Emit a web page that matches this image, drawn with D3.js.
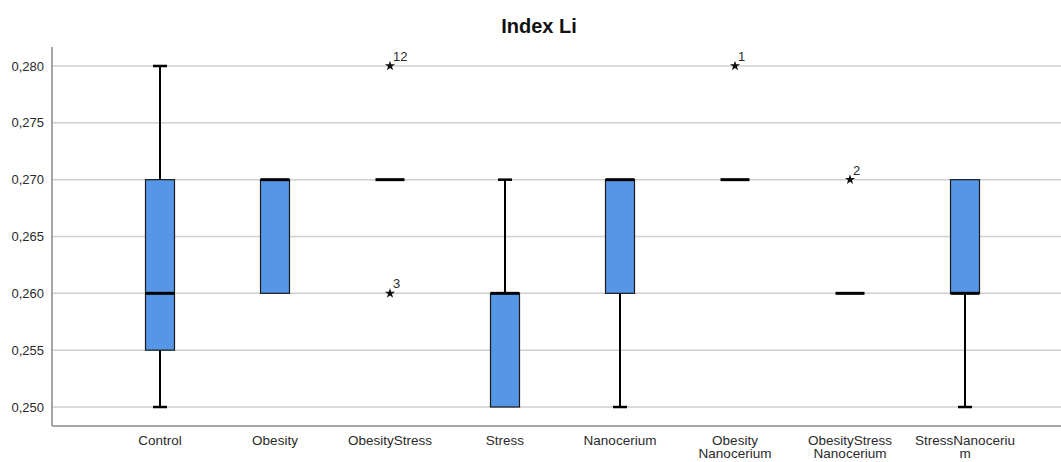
<!DOCTYPE html>
<html>
<head>
<meta charset="utf-8">
<script src="https://cdn.jsdelivr.net/npm/d3@7"></script>
<style>
  body { margin: 0; background: #fff; }
  svg { font-family: "Liberation Sans", Arial, sans-serif; }
</style>
</head>
<body>
<div id="chart"></div>
<script>
var categories = ["Control", "Obesity", "ObesityStress", "Stress", "Nanocerium",
    "Obesity Nanocerium", "ObesityStress Nanocerium", "StressNanocerium"];
var catLabels = [["Control"], ["Obesity"], ["ObesityStress"], ["Stress"], ["Nanocerium"],
    ["Obesity", "Nanocerium"], ["ObesityStress", "Nanocerium"], ["StressNanoceriu", "m"]];

var mins    = [0.250, 0.260, 0.270, 0.250, 0.250, 0.270, 0.260, 0.250];
var q1s     = [0.255, 0.260, 0.270, 0.250, 0.260, 0.270, 0.260, 0.260];
var medians = [0.260, 0.270, 0.270, 0.260, 0.270, 0.270, 0.260, 0.260];
var q3s     = [0.270, 0.270, 0.270, 0.260, 0.270, 0.270, 0.260, 0.270];
var maxs    = [0.280, 0.270, 0.270, 0.270, 0.270, 0.270, 0.260, 0.270];

var outlierCats   = ["ObesityStress", "ObesityStress", "Obesity Nanocerium", "ObesityStress Nanocerium"];
var outlierValues = [0.280, 0.260, 0.280, 0.270];
var outlierIds    = ["12", "3", "1", "2"];

var yTicks = [0.250, 0.255, 0.260, 0.265, 0.270, 0.275, 0.280];

var width = 1061,
    height = 462,
    axisX = 52,
    axisBottom = 426,
    axisTop = 47,
    boxWidth = 29,
    capWidth = 14,
    boxColor = "rgb(85, 150, 230)";

var svg = d3.select("#chart")
    .append("svg")
    .attr("width", width)
    .attr("height", height);

var x = d3.scaleBand()
    .domain(categories)
    .range([102.5, 1022.5]);

var y = d3.scaleLinear()
    .domain([0.24833, 0.28167])
    .range([axisBottom, axisTop]);

var cx = function (c) { return x(c) + x.bandwidth() / 2; };

// grid
svg.append("g")
    .selectAll("line")
    .data(yTicks)
    .join("line")
    .attr("x1", axisX)
    .attr("x2", width)
    .attr("y1", function (d) { return y(d); })
    .attr("y2", function (d) { return y(d); })
    .style("stroke", "#cfcfcf")
    .style("stroke-width", "1.5px");

// y tick labels
svg.append("g")
    .selectAll("text")
    .data(yTicks)
    .join("text")
    .attr("x", 44)
    .attr("y", function (d) { return y(d); })
    .attr("dy", "0.35em")
    .attr("text-anchor", "end")
    .style("font-size", "13px")
    .style("fill", "#2a2a2a")
    .text(function (d) { return d3.format(".3f")(d).replace(".", ","); });

// axes lines
svg.append("line")
    .attr("x1", axisX).attr("x2", axisX)
    .attr("y1", axisTop).attr("y2", axisBottom)
    .style("stroke", "#888").style("stroke-width", "1.5px");
svg.append("line")
    .attr("x1", axisX).attr("x2", width)
    .attr("y1", axisBottom).attr("y2", axisBottom)
    .style("stroke", "#888").style("stroke-width", "1.5px");

// x labels
var xl = svg.append("g")
    .selectAll("text")
    .data(categories)
    .join("text")
    .attr("text-anchor", "middle")
    .style("font-size", "13.5px")
    .style("fill", "#2a2a2a");
xl.each(function (c, i) {
    d3.select(this).selectAll("tspan")
        .data(catLabels[i])
        .join("tspan")
        .attr("x", cx(c))
        .attr("y", function (d, j) { return 445 + j * 13; })
        .text(function (d) { return d; });
});

// boxes
var boxes = svg.append("g")
    .selectAll("g")
    .data(categories)
    .join("g");

boxes.each(function (c, i) {
    var g = d3.select(this),
        m = cx(c);

    // whiskers
    if (maxs[i] > q3s[i]) {
        g.append("line").attr("x1", m).attr("x2", m)
            .attr("y1", y(q3s[i])).attr("y2", y(maxs[i]))
            .style("stroke", "#000").style("stroke-width", "2px");
        g.append("line").attr("x1", m - capWidth / 2).attr("x2", m + capWidth / 2)
            .attr("y1", y(maxs[i])).attr("y2", y(maxs[i]))
            .style("stroke", "#000").style("stroke-width", "2.5px");
    }
    if (mins[i] < q1s[i]) {
        g.append("line").attr("x1", m).attr("x2", m)
            .attr("y1", y(q1s[i])).attr("y2", y(mins[i]))
            .style("stroke", "#000").style("stroke-width", "2px");
        g.append("line").attr("x1", m - capWidth / 2).attr("x2", m + capWidth / 2)
            .attr("y1", y(mins[i])).attr("y2", y(mins[i]))
            .style("stroke", "#000").style("stroke-width", "2.5px");
    }

    // box
    if (q3s[i] > q1s[i]) {
        g.append("rect")
            .attr("x", m - boxWidth / 2)
            .attr("y", y(q3s[i]))
            .attr("width", boxWidth)
            .attr("height", y(q1s[i]) - y(q3s[i]))
            .style("fill", boxColor)
            .style("stroke", "#1a1a1a")
            .style("stroke-width", "1.2px");
    }

    // median
    g.append("line")
        .attr("x1", m - boxWidth / 2).attr("x2", m + boxWidth / 2)
        .attr("y1", y(medians[i])).attr("y2", y(medians[i]))
        .style("stroke", "#000").style("stroke-width", "3px");
});

// outliers
var star = d3.symbol().type(d3.symbolStar).size(32);
outlierCats.forEach(function (c, i) {
    var px = cx(c), py = y(outlierValues[i]);
    svg.append("path")
        .attr("d", star)
        .attr("transform", "translate(" + px + "," + py + ")")
        .style("fill", "#111");
    svg.append("text")
        .attr("x", px + 3)
        .attr("y", py - 5)
        .style("font-size", "13px")
        .style("fill", "#2a2a2a")
        .text(outlierIds[i]);
});

// title
svg.append("text")
    .attr("x", 539)
    .attr("y", 33)
    .attr("text-anchor", "middle")
    .attr("font-weight", "bold")
    .style("font-size", "20px")
    .style("fill", "#111")
    .text("Index Li");
</script>
</body>
</html>
